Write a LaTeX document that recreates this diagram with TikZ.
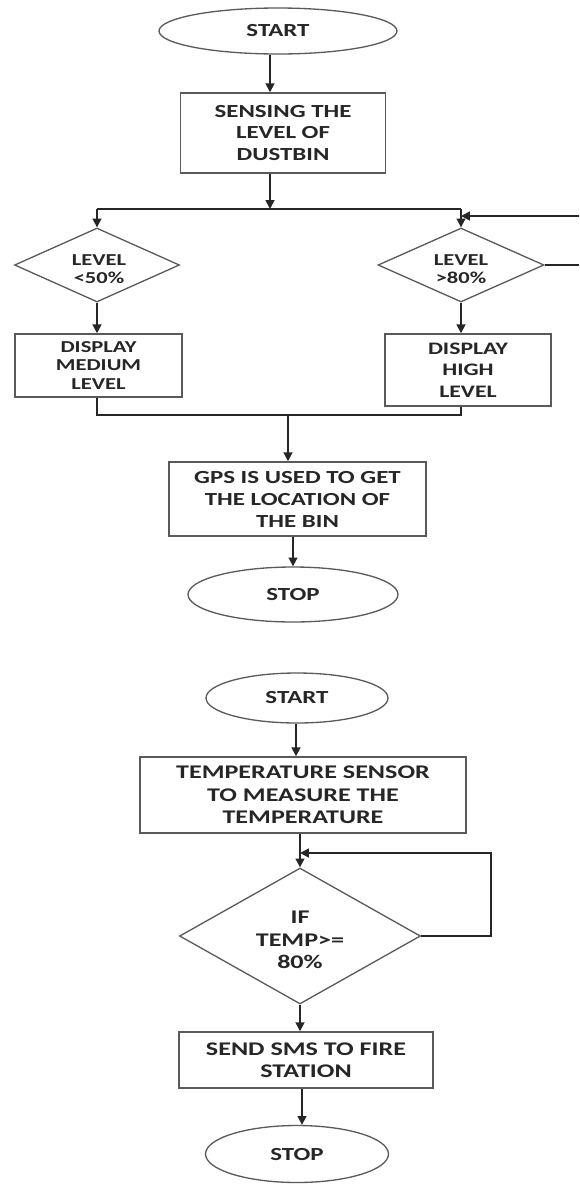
\documentclass[tikz,border=0pt]{standalone}
\usepackage{fontspec}
\setmainfont{Carlito}[FakeStretch=1.35]
\usetikzlibrary{shapes.geometric,arrows.meta}
\definecolor{edgegray}{HTML}{5A5A5A}
\definecolor{inkdark}{HTML}{262626}
\begin{document}
\begin{tikzpicture}[x=0.02cm,y=-0.02cm,
	term/.style={draw=edgegray,line width=0.75pt,ellipse,inner sep=0pt,text=inkdark,font=\bfseries\fontsize{10.5}{12.5}\selectfont},
	proc/.style={draw=edgegray,line width=0.85pt,rectangle,inner sep=0pt,align=center,text=inkdark,font=\bfseries\fontsize{10.5}{12.5}\selectfont},
	decision/.style={draw=edgegray,line width=0.75pt,diamond,inner sep=0pt},
	lbl/.style={align=center,inner sep=0pt,text=inkdark,font=\bfseries\fontsize{9.5}{10.5}\selectfont},
	wire/.style={draw=black!85,line width=1pt},
	arr/.style={wire,-{Triangle[width=5pt,length=5pt]}}]
			\useasboundingbox (0,0) rectangle (579,1184);
			\node[term,minimum width=4.76cm,minimum height=0.92cm] (start1) at (278,31) {START};
			\node[proc,minimum width=4.1cm,minimum height=1.6cm] (sense) at (283,133) {SENSING THE\\LEVEL OF\\DUSTBIN};
			\coordinate (split) at (270,209);
			\node[decision,minimum width=3.3cm,minimum height=1.48cm] (lvlL) at (97,265) {};
			\node[lbl] (lvlLtxt) at (99,269) {LEVEL\\<50\%};
			\node[decision,minimum width=3.32cm,minimum height=1.48cm] (lvlR) at (461,265) {};
			\node[lbl] (lvlRtxt) at (461,269) {LEVEL\\>80\%};
			\coordinate (fbin) at (579,216);
			\coordinate (fbout) at (579,262);
			\node[proc,minimum width=3.34cm,minimum height=1.26cm,font=\bfseries\fontsize{9.5}{10.8}\selectfont] (dispL) at (98.5,365.5) {DISPLAY\\MEDIUM\\LEVEL};
			\node[proc,minimum width=3.32cm,minimum height=1.44cm,font=\bfseries\fontsize{10}{12.3}\selectfont] (dispR) at (468,370) {DISPLAY\\HIGH\\LEVEL};
			\coordinate (merge) at (288,415);
			\node[proc,minimum width=5.14cm,minimum height=1.48cm] (gps) at (297.5,499) {GPS IS USED TO GET\\THE LOCATION OF\\THE BIN};
			\node[term,minimum width=4.2cm,minimum height=1.1cm] (stop1) at (293,594.5) {STOP};
			\draw[arr] (270,0 |- start1.south) -- (270,0 |- sense.north);
			\draw[arr] (270,0 |- sense.south) -- (split);
			\draw[wire] (lvlL.north |- split) -- (lvlR.north |- split);
			\draw[arr] (lvlL.north |- split) -- (lvlL.north);
			\draw[arr] (lvlR.north |- split) -- (lvlR.north);
			\draw[arr] (fbin) -- (lvlR.north |- fbin);
			\draw[wire] (lvlR.east) -- (lvlR.east -| fbout);
			\draw[arr] (lvlL.south) -- (lvlL.south |- dispL.north);
			\draw[arr] (lvlR.south) -- (lvlR.south |- dispR.north);
			\draw[wire] (lvlL.south |- dispL.south) -- (lvlL.south |- merge) -- (lvlR.south |- merge) -- (lvlR.south |- dispR.south);
			\draw[arr] (merge) -- (merge |- gps.north);
			\draw[arr] (stop1.north |- gps.south) -- (stop1.north);
			\node[term,minimum width=3.64cm,minimum height=1cm] (start2) at (297,698) {START};
			\node[proc,minimum width=6.52cm,minimum height=1.52cm,font=\bfseries\fontsize{11}{12.8}\selectfont] (temp) at (303,795) {TEMPERATURE SENSOR\\TO MEASURE THE\\TEMPERATURE};
			\node[decision,minimum width=4.82cm,minimum height=2.72cm] (tif) at (300,936) {};
			\node[lbl,font=\bfseries\fontsize{11}{12.8}\selectfont] (tiftxt) at (300,940) {IF\\TEMP>=\\80\%};
			\coordinate (loopc) at (491,853);
			\node[proc,minimum width=5.08cm,minimum height=1.12cm,font=\bfseries\fontsize{11}{12.8}\selectfont] (sms) at (306,1060) {SEND SMS TO FIRE\\STATION};
			\node[term,minimum width=3.66cm,minimum height=1.14cm] (stop2) at (297,1154) {STOP};
			\draw[arr] (296,0 |- start2.south) -- (296,0 |- temp.north);
			\draw[arr] (tif.north |- temp.south) -- (tif.north);
			\draw[arr] (tif.east) -- (tif.east -| loopc) -- (loopc) -- (tif.north |- loopc);
			\draw[arr] (tif.south) -- (tif.south |- sms.north);
			\draw[arr] (302,0 |- sms.south) -- (302,0 |- stop2.north);
		\end{tikzpicture}
\end{document}
